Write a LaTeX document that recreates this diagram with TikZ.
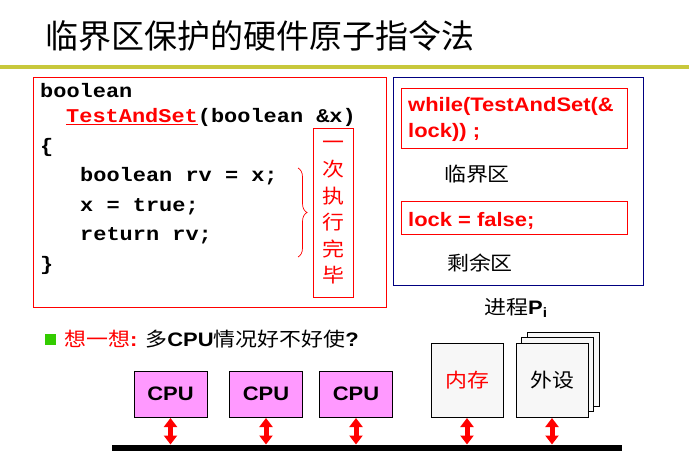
\documentclass[tikz,border=0pt]{standalone}
\usepackage{fontspec}
\setmainfont{Liberation Sans}
\newfontfamily\cjk{Noto Sans CJK SC}
\newfontfamily\codefnt{Liberation Mono}
\usetikzlibrary{arrows.meta,decorations.pathreplacing}
\definecolor{barolive}{RGB}{200,200,60}
\definecolor{navybox}{RGB}{0,0,128}
\definecolor{cpupink}{RGB}{255,153,255}
\definecolor{boxgray}{RGB}{247,247,247}
\definecolor{bulletgreen}{RGB}{51,204,0}
\begin{document}
\begin{tikzpicture}[x=1pt,y=-1pt,
  st/.style={inner sep=0pt,xscale=1.125},
  codeline/.style={st,anchor=base west,font=\codefnt\bfseries\fontsize{19.5}{20}\selectfont},
  redline/.style={st,anchor=base west,text=red,font=\bfseries\fontsize{19.5}{20}\selectfont},
  cjktxt/.style={st,font=\cjk\fontsize{19.5}{20}\selectfont},
  redframe/.style={draw=red,line width=0.9pt},
  cpubox/.style={draw=black,line width=1pt,fill=cpupink,minimum width=73pt,minimum height=46pt,inner sep=0pt},
  graybox/.style={draw=black,line width=1pt,fill=boxgray,minimum width=72pt,minimum height=74pt,inner sep=0pt},
  dbl/.style={{Triangle[width=13pt,length=9pt]}-{Triangle[width=13pt,length=9pt]},line width=5pt,red,shorten <=0.5pt,shorten >=0.5pt}]
\useasboundingbox (0,0) rectangle (689,460);
% title
\node[inner sep=0pt,anchor=west,font=\cjk\fontsize{33}{34}\selectfont] (title) at (45,36) {临界区保护的硬件原子指令法};
\coordinate (barL) at (0,67);
\coordinate (barR) at (689,67);
\draw[barolive,line width=4pt] (barL) -- (barR);
% left code box
\node[redframe,minimum width=353pt,minimum height=230pt,inner sep=0pt] (codebox) at (209.5,192) {};
\node[codeline] (l1) at (40,98) {boolean};
\node[codeline] (l2) at (66,123) {\textcolor{red}{\underline{TestAndSet}}(boolean \&x)};
\node[codeline] (l3) at (40,153) {\{};
\node[codeline] (l4) at (80,182) {boolean rv = x;};
\node[codeline] (l5) at (80,211.5) {x = true;};
\node[codeline] (l6) at (80,240.5) {return rv;};
\node[codeline] (l7) at (40,270) {\}};
\coordinate (brT) at (298,168);
\coordinate (brB) at (298,257);
\draw[red,line width=0.7pt,decorate,decoration={brace,amplitude=9pt}] (brT) -- (brB);
\node[redframe,minimum width=40pt,minimum height=169pt,inner sep=0pt] (vbox) at (333,212.5) {};
\node[st,text=red,align=center,font=\cjk\fontsize{19.5}{26.6}\selectfont] (vtext) at (333,213) {一\\次\\执\\行\\完\\毕};
% right process box
\node[draw=navybox,line width=1pt,minimum width=250pt,minimum height=207pt,inner sep=0pt] (pbox) at (518,181.5) {};
\node[redframe,minimum width=226pt,minimum height=60pt,inner sep=0pt] (wbox) at (514,118) {};
\node[redline] (w1) at (408,112) {while(TestAndSet(\&};
\node[redline] (w2) at (408,138) {lock)) ;};
\node[cjktxt] (crit) at (477,174) {临界区};
\node[redframe,minimum width=226pt,minimum height=33pt,inner sep=0pt] (lbox) at (514,217.5) {};
\node[redline] (lk) at (408,226) {lock = false;};
\node[cjktxt] (rem) at (480,263) {剩余区};
\node[st,font=\fontsize{19.5}{20}\selectfont] (proc) at (516,308) {{\cjk 进程}\textbf{P\textsubscript{i}}};
% question
\node[fill=bulletgreen,minimum width=11pt,minimum height=11pt,inner sep=0pt] (bullet) at (50.5,339.5) {};
\node[st,anchor=west,font=\fontsize{19.5}{20}\selectfont] (q) at (64,339) {\textcolor{red}{{\cjk 想一想}\textbf{:}} {\cjk 多}\textbf{CPU}{\cjk 情况好不好使}\textbf{?}};
% bus
\coordinate (busL) at (112,448);
\coordinate (busR) at (622,448);
\coordinate (bustop) at (112,445);
\draw[black,line width=6pt] (busL) -- (busR);
% cpus
\node[cpubox] (c1) at (170.5,394) {};
\node[cpubox] (c2) at (266,394) {};
\node[cpubox] (c3) at (356,394) {};
\node[st,font=\bfseries\fontsize{19.5}{20}\selectfont] (t1) at (c1) {CPU};
\node[st,font=\bfseries\fontsize{19.5}{20}\selectfont] (t2) at (c2) {CPU};
\node[st,font=\bfseries\fontsize{19.5}{20}\selectfont] (t3) at (c3) {CPU};
% memory and devices
\node[graybox] (mem) at (467,380) {};
\node[cjktxt,text=red] (memt) at (mem) {内存};
\node[graybox] (dev3) at (563,369) {};
\node[graybox] (dev2) at (557,374) {};
\node[graybox] (dev) at (552,380) {};
\node[cjktxt] (devt) at (dev) {外设};
% arrows
\draw[dbl] (c1.south) -- (c1.south |- bustop);
\draw[dbl] (c2.south) -- (c2.south |- bustop);
\draw[dbl] (c3.south) -- (c3.south |- bustop);
\draw[dbl] (mem.south) -- (mem.south |- bustop);
\draw[dbl] (dev.south) -- (dev.south |- bustop);
\end{tikzpicture}
\end{document}
